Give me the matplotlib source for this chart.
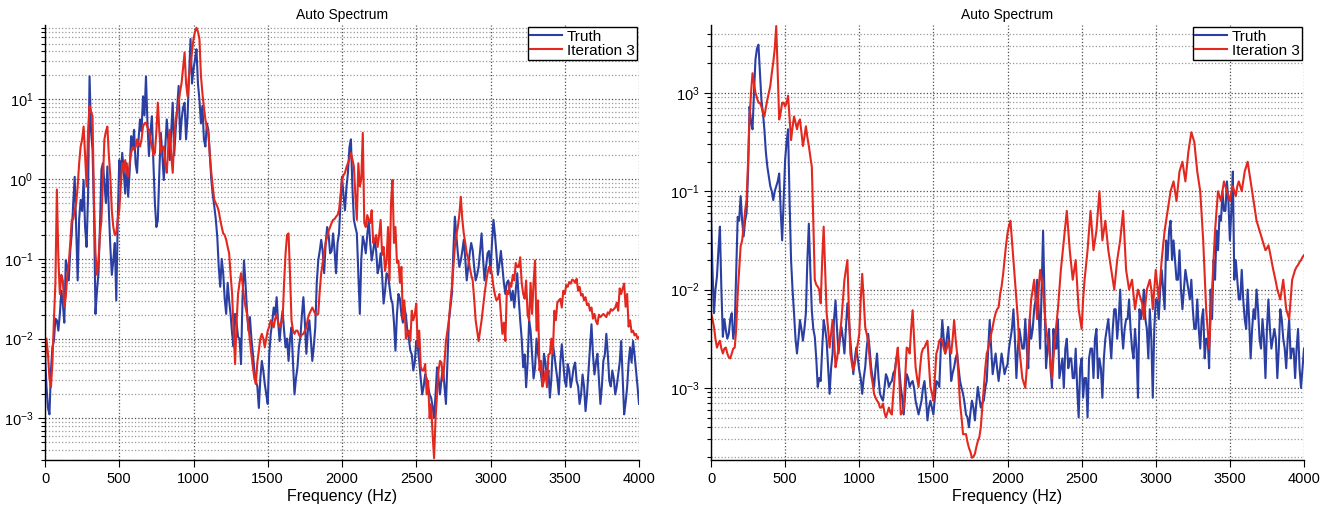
import matplotlib
matplotlib.use("Agg")
import matplotlib.pyplot as plt
import numpy as np
from matplotlib.ticker import FixedLocator, FixedFormatter, LogLocator, NullFormatter

plt.rcParams['font.family'] = ['Liberation Sans', 'DejaVu Sans']
plt.rcParams['mathtext.fontset'] = 'custom'
plt.rcParams['mathtext.rm'] = 'Liberation Sans'
plt.rcParams['mathtext.it'] = 'Liberation Sans'

# frequency grid (Hz): values read every 20 Hz plus the points half way between
freq = np.arange(0, 4001, 10)

# values are read as log10 of the auto spectrum
# --- left panel, on 0, 20, 40 ... 4000 Hz
truth_left_exp = [
    -2.2, -2.87, -2.40, -2.03, -1.77, -1.69, -1.56, -1.02, -1.27, -0.68,
    0.03, -1.27, -0.26, -0.01, -0.85, 1.29, 0.37, -1.69, -1.18, 0.12,
    -0.05, 0.16, -0.85, -1.02, -1.52, 0.24, 0.33, -0.18, -0.22, 0.54,
    0.62, 0.08, 0.75, 1.04, 1.29, 0.29, 0.79, -0.30, -0.51, 0.58,
    -0.01, 0.75, 0.24, 0.96, 0.62, 1.17, 0.75, 0.96, 0.79, 1.76,
    1.38, 1.63, 1.00, 0.92, 0.41, 0.62, -0.01, -0.34, -0.72, -1.35,
    -1.18, -1.69, -1.52, -1.94, -1.69, -1.98, -2.32, -1.02, -1.65, -1.73,
    -2.19, -2.53, -2.87, -2.28, -2.57, -2.82, -1.94, -1.61, -1.48, -2.03,
    -1.65, -2.11, -2.28, -1.86, -2.70, -2.36, -1.98, -1.48, -2.19, -1.77,
    -2.28, -1.86, -1.02, -0.76, -1.18, -0.60, -0.93, -0.68, -1.18, -0.68,
    0.03,
    -0.39, 0.08, 0.50, -0.51, -0.68, -1.69, -0.72, -0.93, -0.51, -1.02,
    -0.76, -1.18, -0.93, -1.56, -1.18, -1.35, -1.56, -2.15, -1.44, -1.69,
    -1.61, -1.90, -2.15, -2.40, -2.03, -2.28, -2.70, -2.45, -2.61, -2.74,
    -2.99, -2.36, -2.70, -2.36, -2.82, -1.77, -1.44, -0.47, -0.93, -1.02,
    -0.76, -1.27, -0.93, -0.89, -1.27, -1.10, -0.68, -1.27, -0.93, -1.18,
    -0.51, -0.93, -1.06, -1.10, -1.44, -1.27, -1.52, -1.61, -1.18, -1.77,
    -2.36, -2.61, -1.77, -2.19, -2.36, -2.19, -2.45, -2.19, -2.53, -2.74,
    -2.07, -2.36, -2.70, -2.07, -2.53, -2.32, -2.61, -2.36, -2.53, -2.82,
    -2.45, -2.91, -2.40, -1.82, -2.45, -2.19, -2.82, -2.28, -1.94, -2.53,
    -2.40, -2.70, -2.45, -2.03, -2.95, -2.61, -2.11, -2.03, -2.40, -2.82,
]
# on 10, 30, 50 ... 3990 Hz
truth_left_mid = [
    -2.6, -2.95, -2.1, -1.75, -1.9, -1.4, -1.8, -1.1, -0.9, -0.3,
    -0.6, -0.5, -0.4, -0.6, -0.2, 0.6, -0.4, -1.4, -0.6, 0.2,
    -0.3, -0.4, -1.2, -0.8, -0.5, 0.0, 0.1, 0.2, 0.1, 0.4,
    0.2, 0.5, 0.6, 0.8, 0.7, 0.6, 0.2, -0.6, 0.1, 0.3,
    0.4, 0.5, 0.6, 0.3, 0.9, 0.5, 0.9, 0.5, 1.3, 1.2,
    1.5, 1.2, 0.7, 0.5, 0.7, 0.3, -0.2, -0.5, -1.1, -1.0,
    -1.5, -1.3, -1.7, -2.1, -1.8, -2.0, -1.5, -1.3, -1.9, -2.0,
    -2.4, -2.6, -2.5, -2.4, -2.7, -2.2, -1.8, -1.7, -1.8, -1.8,
    -1.9, -2.0, -2.0, -2.3, -2.5, -2.1, -1.7, -1.8, -1.9, -2.0,
    -2.1, -1.3, -0.9, -0.9, -0.8, -0.7, -0.9, -0.9, -0.8, -0.3,
    -0.2, -0.1, 0.4, -0.1, -0.6, -1.2, -1.0, -0.8, -0.7, -0.8,
    -0.9, -0.9, -1.1, -1.2, -1.4, -1.2, -1.5, -1.8, -1.7, -1.5,
    -1.8, -1.7, -2.0, -2.2, -2.3, -2.1, -2.5, -2.6, -2.5, -2.7,
    -2.85, -2.7, -2.5, -2.5, -2.6, -2.3, -1.6, -0.9, -0.7, -1.1,
    -0.9, -1.0, -1.1, -0.8, -1.1, -1.2, -0.9, -1.0, -1.1, -0.9,
    -0.8, -0.7, -1.2, -0.9, -1.3, -1.3, -1.4, -1.4, -1.4, -1.5,
    -2.0, -2.2, -2.3, -1.9, -2.5, -2.0, -2.3, -2.6, -2.3, -2.4,
    -2.5, -2.2, -2.5, -2.3, -2.3, -2.6, -2.4, -2.5, -2.3, -2.6,
    -2.7, -2.6, -2.7, -2.1, -2.2, -2.3, -2.5, -2.6, -2.2, -2.2,
    -2.6, -2.5, -2.6, -2.3, -2.5, -2.8, -2.3, -2.3, -2.2, -2.6,
]

iter3_left_exp = [
    -2.3, -2.19, -2.61, -1.77, -0.13, -1.44, -1.27, -1.48, -1.06, -0.51,
    -0.39, -0.09, 0.41, 0.66, -0.09, 0.92, 0.79, -0.93, -1.02, -0.51,
    0.50, 0.66, 0.03, -0.60, -0.68, -0.39, 0.20, 0.24, 0.03, 0.33,
    0.37, 0.50, 0.41, 0.66, 0.71, 0.62, 0.41, 0.33, 0.96, 0.33,
    0.41, 0.08, 0.62, 0.08, 0.75, 0.96, 1.21, 1.59, 1.04, 1.42,
    1.76, 1.90, 1.76, 1.08, 0.75, 0.58, 0.08, -0.26, -0.34, -0.51,
    -0.68, -0.76, -0.93, -1.44, -2.32, -1.44, -1.18, -1.48, -1.69, -2.03,
    -2.36, -2.57, -2.15, -1.94, -2.11, -1.90, -1.77, -1.86, -1.69, -1.86,
    -1.77, -0.93, -0.68, -1.77, -1.94, -1.90, -1.98, -1.94, -1.86, -1.69,
    -1.61, -1.69, -1.69, -1.18, -0.93, -0.72, -0.60, -0.51, -0.47, -0.39,
    -0.01,
    0.08, 0.20, 0.33, 0.16, -0.51, -0.09, 0.58, -0.60, -0.51, -0.39,
    -0.76, -0.85, -0.51, -0.85, -1.02, -1.27, -0.01, -0.60, -1.02, -1.10,
    -1.52, -1.94, -2.03, -1.77, -1.56, -1.90, -2.40, -2.32, -2.53, -2.82,
    -3.50, -2.70, -2.28, -2.53, -2.03, -1.77, -1.35, -0.85, -0.60, -0.22,
    -0.68, -0.93, -1.10, -1.27, -1.77, -2.03, -1.77, -1.44, -1.18, -1.10,
    -1.35, -1.52, -1.44, -1.94, -2.03, -1.44, -1.35, -1.27, -1.10, -0.98,
    -1.44, -1.27, -1.77, -1.69, -1.02, -1.52, -2.28, -2.53, -2.61, -2.19,
    -2.19, -1.77, -1.52, -1.61, -1.44, -1.35, -1.31, -1.27, -1.25, -1.35,
    -1.44, -1.48, -1.56, -1.61, -1.69, -1.82, -1.73, -1.69, -1.73, -1.69,
    -1.65, -1.61, -1.65, -1.44, -1.31, -1.44, -1.77, -1.90, -1.94, -1.98,
]
iter3_left_mid = [
    -2.0, -2.5, -2.3, -1.3, -1.0, -1.2, -1.6, -1.2, -0.8, -0.5,
    -0.3, 0.2, 0.5, 0.3, 0.6, 0.85, -0.3, -1.2, -0.7, 0.0,
    0.6, 0.3, -0.4, -0.7, -0.5, -0.1, 0.1, 0.1, 0.2, 0.4,
    0.4, 0.45, 0.5, 0.7, 0.65, 0.5, 0.3, 0.6, 0.6, 0.4,
    0.2, 0.4, 0.3, 0.5, 0.85, 1.1, 1.4, 1.2, 1.3, 1.6,
    1.85, 1.85, 1.3, 0.9, 0.65, 0.3, -0.1, -0.3, -0.4, -0.6,
    -0.7, -0.85, -1.2, -1.9, -1.8, -1.3, -1.3, -1.6, -1.85, -2.2,
    -2.5, -2.3, -2.0, -2.0, -2.0, -1.85, -1.8, -1.75, -1.8, -1.8,
    -1.3, -0.7, -1.2, -1.9, -1.9, -1.95, -1.95, -1.9, -1.75, -1.65,
    -1.65, -1.7, -1.4, -1.05, -0.8, -0.65, -0.55, -0.5, -0.45, -0.2,
    0.05, 0.15, 0.25, 0.25, -0.2, 0.2, 0.0, -0.55, -0.45, -0.55,
    -0.8, -0.7, -0.7, -0.95, -1.15, -0.6, -0.3, -0.8, -1.05, -1.3,
    -1.75, -2.0, -1.9, -1.65, -1.7, -2.1, -2.35, -2.4, -2.7, -3.0,
    -3.2, -3.0, -2.4, -2.3, -2.3, -1.9, -1.55, -1.1, -0.7, -0.45,
    -0.5, -0.8, -1.0, -1.2, -1.5, -1.9, -1.9, -1.6, -1.3, -1.1,
    -1.2, -1.45, -1.5, -1.7, -1.8, -1.4, -1.3, -1.2, -1.05, -1.1,
    -1.3, -1.5, -1.7, -1.3, -1.3, -1.9, -2.4, -2.6, -2.4, -2.2,
    -2.0, -1.65, -1.55, -1.5, -1.4, -1.33, -1.29, -1.26, -1.3, -1.4,
    -1.46, -1.52, -1.58, -1.65, -1.75, -1.78, -1.7, -1.71, -1.71, -1.67,
    -1.63, -1.63, -1.55, -1.37, -1.37, -1.6, -1.85, -1.92, -1.96, -2.0,
]

# --- right panel
truth_right_exp = [
    -1.22, -2.24, -1.87, -1.36, -2.48, -2.41, -2.45, -2.24, -2.38, -1.26,
    -1.05, -1.46, -1.22, -0.14, -0.37, 0.34, 0.49, -0.07, -0.37, -0.75,
    -0.95, -1.09, -0.95, -0.82, -1.50, -0.68, -0.37, -1.70, -2.24, -2.65,
    -2.31, -2.52, -2.24, -1.33, -2.21, -2.48, -2.99, -2.93, -2.31, -2.52,
    -3.06, -2.65, -2.11, -2.65, -2.38, -2.65, -2.14, -2.52, -2.86, -2.59,
    -2.82, -3.06, -2.79, -2.45, -2.79, -2.99, -2.65, -3.06, -3.13, -2.86,
    -2.99, -2.93, -2.82, -2.65, -2.99, -3.27, -2.86, -2.99, -2.93, -3.13,
    -3.27, -3.13, -2.93, -3.33, -3.13, -3.27, -2.93, -2.99, -2.31, -2.65,
    -2.38, -2.93, -2.79, -2.65, -2.93, -3.06, -3.27, -3.40, -3.13, -3.33,
    -2.99, -3.20, -3.13, -2.93, -2.31, -2.86, -2.65, -2.93, -2.65, -2.86,
    -2.76,
    -2.5, -2.2, -2.9, -2.4, -2.6, -2.3, -2.8, -2.5, -2.2, -1.9,
    -2.6, -1.4, -2.8, -2.4, -3.0, -2.6, -2.3, -2.8, -3.0, -2.5,
    -2.7, -2.9, -2.6, -3.3, -2.7, -2.9, -3.3, -2.6, -2.9, -2.4,
    -2.7, -3.1, -2.5, -2.3, -2.7, -2.2, -2.5, -2.0, -2.6, -2.3,
    -2.1, -2.6, -2.4, -3.1, -2.3, -2.0, -2.4, -2.2, -3.1, -2.1,
    -2.3, -1.8, -2.2, -1.7, -1.3, -1.5, -1.9, -1.6, -2.2, -1.8,
    -2.0, -1.9, -2.4, -2.1, -2.6, -2.2, -2.5, -2.8, -2.3, -1.9,
    -1.6, -1.3, -1.2, -0.9, -1.5, -0.8, -1.7, -2.1, -1.8, -2.3,
    -2.0, -2.7, -2.2, -2.0, -2.5, -2.3, -2.9, -2.1, -2.6, -2.4,
    -2.9, -2.2, -2.5, -2.8, -2.3, -2.6, -2.9, -2.4, -3.0, -2.6,
]
truth_right_mid = [
    -1.8, -2.0, -1.6, -2.0, -2.3, -2.5, -2.3, -2.5, -1.8, -1.3,
    -1.3, -1.3, -0.8, -0.3, 0.0, 0.45, 0.2, -0.2, -0.6, -0.85,
    -1.0, -1.0, -0.9, -1.2, -1.1, -0.5, -1.1, -2.0, -2.5, -2.5,
    -2.4, -2.4, -1.7, -1.8, -2.4, -2.7, -2.9, -2.6, -2.4, -2.8,
    -2.8, -2.3, -2.4, -2.5, -2.5, -2.4, -2.3, -2.7, -2.7, -2.7,
    -2.9, -2.9, -2.6, -2.6, -2.9, -2.8, -2.9, -3.1, -3.0, -2.9,
    -2.95, -2.85, -2.7, -2.8, -3.1, -3.05, -2.9, -2.95, -3.0, -3.2,
    -3.2, -3.0, -3.1, -3.2, -3.2, -3.1, -2.95, -2.6, -2.5, -2.5,
    -2.6, -2.85, -2.7, -2.8, -3.0, -3.15, -3.3, -3.25, -3.2, -3.15,
    -3.1, -3.15, -3.0, -2.6, -2.6, -2.75, -2.8, -2.8, -2.75, -2.8,
    -2.6, -2.4, -2.5, -2.6, -2.5, -2.6, -2.6, -2.3, -2.4, -2.1,
    -2.2, -2.0, -2.1, -2.6, -2.8, -2.4, -2.6, -2.9, -2.7, -2.6,
    -2.8, -2.7, -2.9, -3.0, -2.8, -3.1, -2.9, -2.7, -2.6, -2.5,
    -2.9, -2.8, -2.7, -2.4, -2.5, -2.4, -2.2, -2.3, -2.4, -2.4,
    -2.3, -2.4, -2.7, -2.6, -2.2, -2.2, -2.3, -2.7, -2.5, -2.4,
    -2.1, -2.0, -2.0, -1.5, -1.4, -1.7, -1.7, -1.9, -2.0, -2.0,
    -1.9, -2.1, -2.2, -2.4, -2.4, -2.3, -2.7, -2.5, -2.0, -1.7,
    -1.4, -1.25, -1.0, -1.2, -1.1, -1.2, -1.9, -1.9, -2.1, -2.1,
    -2.4, -2.3, -2.4, -2.3, -2.2, -2.6, -2.5, -2.4, -2.4, -2.5,
    -2.5, -2.6, -2.3, -2.6, -2.5, -2.7, -2.6, -2.6, -2.8, -2.8,
]

iter3_right_exp = [
    -2.24, -2.38, -2.59, -2.52, -2.65, -2.59, -2.69, -2.65, -2.59, -2.04,
    -1.56, -1.36, -1.09, -0.27, 0.20, 0.00, -0.10, -0.14, -0.24, -0.07,
    0.07, 0.31, 0.68, -0.27, -0.10, -0.14, -0.03, -0.48, -0.24, -0.37,
    -0.27, -0.54, -0.34, -0.54, -0.75, -1.90, -1.97, -2.14, -1.36, -2.24,
    -2.59, -2.31, -2.79, -2.59, -2.31, -1.90, -1.70, -2.65, -2.82, -2.65,
    -2.45, -1.84, -2.38, -2.52, -2.86, -3.06, -3.13, -3.20, -3.16, -3.30,
    -3.20, -3.27, -2.86, -2.59, -3.27, -3.20, -2.59, -2.65, -2.21, -2.79,
    -2.99, -2.65, -2.59, -2.52, -2.99, -3.13, -2.65, -2.52, -2.52, -2.65,
    -2.52, -2.65, -2.31, -2.65, -3.16, -3.47, -3.47, -3.61, -3.71, -3.67,
    -3.54, -3.40, -2.99, -2.65, -2.52, -2.38, -2.24, -2.18, -1.97, -1.70,
    -1.43,
    -1.3, -1.7, -2.1, -2.6, -2.9, -3.0, -2.5, -2.1, -1.9, -2.3,
    -1.8, -2.0, -2.4, -2.6, -2.9, -2.5, -2.2, -1.8, -1.5, -1.2,
    -1.6, -1.9, -1.7, -2.2, -2.4, -1.9, -1.6, -1.2, -1.6, -1.4,
    -1.0, -1.5, -1.3, -1.6, -1.8, -2.0, -1.7, -1.5, -1.2, -1.8,
    -2.0, -1.9, -2.2, -2.0, -2.1, -2.3, -2.0, -1.9, -2.2, -1.8,
    -2.1, -1.7, -1.4, -1.2, -1.0, -0.9, -1.1, -0.8, -0.7, -0.9,
    -0.6, -0.4, -0.5, -0.8, -1.0, -1.5, -2.2, -2.6, -2.0, -1.4,
    -1.0, -1.1, -0.9, -1.0, -1.1, -0.95, -1.05, -0.9, -1.0, -0.8,
    -0.7, -0.9, -1.1, -1.3, -1.4, -1.5, -1.6, -1.55, -1.7, -1.85,
    -2.0, -2.1, -1.9, -2.2, -2.3, -1.9, -1.8, -1.75, -1.7, -1.65,
]
iter3_right_mid = [
    -2.3, -2.5, -2.55, -2.6, -2.6, -2.65, -2.7, -2.6, -2.4, -1.8,
    -1.5, -1.2, -0.7, 0.0, 0.1, -0.05, -0.1, -0.2, -0.15, 0.0,
    0.2, 0.45, 0.2, -0.2, -0.1, -0.1, -0.25, -0.35, -0.3, -0.3,
    -0.4, -0.45, -0.45, -0.65, -1.3, -1.95, -2.0, -1.7, -1.8, -2.4,
    -2.45, -2.5, -2.7, -2.45, -2.1, -1.8, -2.2, -2.75, -2.75, -2.55,
    -2.1, -2.1, -2.45, -2.7, -2.95, -3.1, -3.15, -3.2, -3.25, -3.25,
    -3.25, -3.05, -2.7, -2.9, -3.25, -2.9, -2.6, -2.4, -2.5, -2.9,
    -2.8, -2.6, -2.55, -2.75, -3.05, -2.9, -2.6, -2.5, -2.6, -2.6,
    -2.6, -2.5, -2.5, -2.9, -3.3, -3.47, -3.55, -3.65, -3.7, -3.6,
    -3.5, -3.2, -2.8, -2.6, -2.45, -2.3, -2.2, -2.05, -1.85, -1.55,
    -1.35, -1.5, -1.9, -2.3, -2.75, -2.95, -2.8, -2.3, -2.0, -2.1,
    -2.0, -1.9, -2.2, -2.5, -2.75, -2.7, -2.35, -2.0, -1.65, -1.35,
    -1.4, -1.75, -1.8, -1.95, -2.3, -2.1, -1.75, -1.4, -1.4, -1.5,
    -1.2, -1.25, -1.4, -1.45, -1.7, -1.9, -1.85, -1.6, -1.35, -1.5,
    -1.9, -1.95, -2.05, -2.1, -2.05, -2.15, -2.15, -1.95, -2.0, -2.0,
    -1.95, -1.9, -1.55, -1.3, -1.1, -0.95, -1.0, -0.95, -0.75, -0.8,
    -0.75, -0.5, -0.45, -0.65, -0.9, -1.25, -1.85, -2.4, -2.3, -1.7,
    -1.2, -1.05, -1.0, -0.95, -1.05, -1.0, -1.0, -0.95, -0.95, -0.9,
    -0.75, -0.8, -1.0, -1.2, -1.35, -1.45, -1.55, -1.58, -1.62, -1.78,
    -1.92, -2.05, -2.0, -2.05, -2.25, -2.1, -1.85, -1.77, -1.72, -1.67,
]

left_ylim = (3e-4, 86)
right_ylim = (1.85e-4, 4.9)
right_tick_labels = ['$10^{3}$', '$10^{-1}$', '$10^{-2}$', '$10^{-3}$']

blue = '#2b3fa3'
red = '#e3281f'


def merge(even, odd):
    out = np.empty(len(even) + len(odd))
    out[0::2] = even
    out[1::2] = odd
    return np.power(10.0, out)


def style_axes(ax):
    ax.set_yscale('log')
    ax.set_xlim(0, 4000)
    ax.set_xticks(range(0, 4001, 500))
    ax.yaxis.set_minor_locator(LogLocator(base=10, subs=np.arange(2, 10)))
    ax.yaxis.set_minor_formatter(NullFormatter())
    ax.grid(True, which='major', axis='both', color='0.3', linestyle=':', linewidth=0.9)
    ax.grid(True, which='minor', axis='y', color='0.6', linestyle=':', linewidth=0.9)
    for side in ('top', 'right'):
        ax.spines[side].set_visible(False)
    ax.spines['left'].set_linewidth(1.0)
    ax.spines['bottom'].set_linewidth(1.0)
    ax.tick_params(which='major', direction='out', length=5, labelsize=10.5, width=0.8)
    ax.tick_params(which='minor', direction='out', length=3, width=0.8)
    ax.set_title('Auto Spectrum', fontsize=10, pad=4)
    ax.set_xlabel('Frequency (Hz)', fontsize=11.5, labelpad=2)


fig = plt.figure(figsize=(13.36, 5.13), dpi=100)
ax1 = fig.add_axes([45 / 1336, 1 - 460 / 513, 594 / 1336, 435 / 513])
ax2 = fig.add_axes([711 / 1336, 1 - 460 / 513, 593 / 1336, 435 / 513])

ax1.plot(freq, merge(truth_left_exp, truth_left_mid), color=blue, lw=1.5, label='Truth')
ax1.plot(freq, merge(iter3_left_exp, iter3_left_mid), color=red, lw=1.5, label='Iteration 3')
style_axes(ax1)
ax1.set_ylim(*left_ylim)

ax2.plot(freq, merge(truth_right_exp, truth_right_mid), color=blue, lw=1.5, label='Truth')
ax2.plot(freq, merge(iter3_right_exp, iter3_right_mid), color=red, lw=1.5, label='Iteration 3')
style_axes(ax2)
ax2.set_ylim(*right_ylim)
ax2.yaxis.set_major_locator(FixedLocator([1, 1e-1, 1e-2, 1e-3]))
ax2.yaxis.set_major_formatter(FixedFormatter(right_tick_labels))

for ax in (ax1, ax2):
    leg = ax.legend(loc='upper right', fontsize=11, frameon=True, fancybox=False,
                    handlelength=2.1, handletextpad=0.3, borderpad=0.15,
                    labelspacing=0.0, borderaxespad=0.15)
    leg.get_frame().set_edgecolor('black')
    leg.get_frame().set_linewidth(1.0)
    leg.get_frame().set_alpha(1)

fig.savefig('out.png', dpi=100)
